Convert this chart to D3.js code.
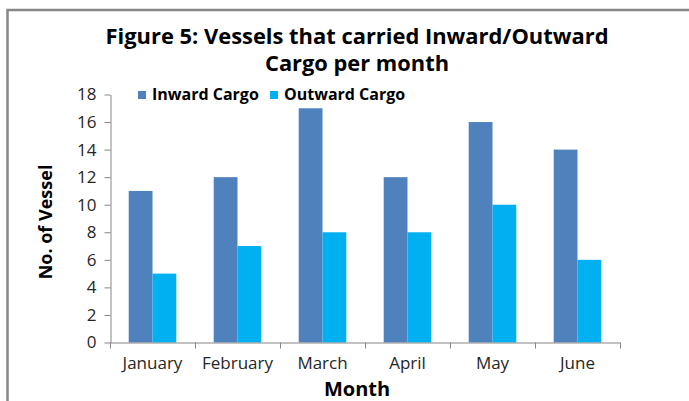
<!DOCTYPE html>
<html><head><meta charset="utf-8">
<script src="https://cdn.jsdelivr.net/npm/d3@7"></script>
<style>body{margin:0;background:#fff}svg{display:block}</style>
</head><body>
<script>
const months = ["January","February","March","April","May","June"];
const inward = [11,12,17,12,16,14];
const outward = [5,7,8,8,10,6];
const seriesNames = ["Inward Cargo","Outward Cargo"];
const seriesColors = ["#4F81BD","#00B0F0"];
const yTicks = [0,2,4,6,8,10,12,14,16,18];

const W=689,H=401;
const svg=d3.select("body").append("svg").attr("width",W).attr("height",H);
const font="Open Sans, Noto Sans, sans-serif";

svg.append("rect").attr("x",7.5).attr("y",10).attr("width",W+10).attr("height",H+10)
  .attr("fill","#fff").attr("stroke","#878787").attr("stroke-width",2.5);

const x0=d3.scaleBand().domain(months).range([110,620]);
const x1=d3.scaleBand().domain(seriesNames).range([x0.bandwidth()*0.22,x0.bandwidth()*0.78]);
const y=d3.scaleLinear().domain([0,18]).range([342.5,94.5]);

// title
const tf={"font-family":font,"font-weight":"bold","font-size":21,"fill":"#000","text-anchor":"middle"};
const t1=svg.append("text").attr("x",357).attr("y",44).text("Figure 5: Vessels that carried Inward/Outward")
  .attr("textLength",503).attr("lengthAdjust","spacingAndGlyphs");
const t2=svg.append("text").attr("x",357).attr("y",71).text("Cargo per month")
  .attr("textLength",184).attr("lengthAdjust","spacingAndGlyphs");
[t1,t2].forEach(t=>Object.entries(tf).forEach(([k,v])=>t.attr(k,v)));

// bars
const data=months.map((m,i)=>({m,vals:[inward[i],outward[i]]}));
const g=svg.append("g");
g.selectAll("g").data(data).join("g").attr("transform",d=>`translate(${x0(d.m)},0)`)
 .selectAll("rect").data(d=>d.vals.map((v,j)=>({v,s:seriesNames[j],c:seriesColors[j]})))
 .join("rect").attr("x",d=>x1(d.s)).attr("width",x1.bandwidth())
 .attr("y",d=>y(d.v)).attr("height",d=>y(0)-y(d.v)).attr("fill",d=>d.c);

// y axis
const ya=svg.append("g").attr("transform","translate(110.5,0)")
 .call(d3.axisLeft(y).tickValues(yTicks).tickSize(6).tickPadding(8).tickSizeOuter(0));
ya.select(".domain").attr("stroke","#868686");
ya.selectAll(".tick line").attr("stroke","#868686");
ya.selectAll("text").attr("font-family",font).attr("font-size",17).attr("fill","#262626");

// x axis
const xa=svg.append("g").attr("transform",`translate(0,${y(0)})`)
 .call(d3.axisBottom(x0).tickSize(0).tickPadding(14));
xa.select(".domain").attr("stroke","#868686");
xa.selectAll("text").attr("font-family",font).attr("font-size",17).attr("fill","#262626");
const bounds=months.map(m=>x0(m)).concat([x0.range()[1]]);
xa.selectAll("line.sep").data(bounds).join("line").attr("class","sep")
 .attr("x1",d=>Math.round(d)+0.5).attr("x2",d=>Math.round(d)+0.5).attr("y1",0).attr("y2",6).attr("stroke","#868686");

// axis titles
svg.append("text").attr("x",357).attr("y",396).attr("text-anchor","middle")
 .attr("font-family",font).attr("font-weight","bold").attr("font-size",20).text("Month");
svg.append("text").attr("transform","translate(52,222) rotate(-90)").attr("text-anchor","middle")
 .attr("font-family",font).attr("font-weight","bold").attr("font-size",18).text("No. of Vessel");

// legend
const lg=svg.append("g").attr("font-family",font).attr("font-weight","bold").attr("font-size",16);
const lx=[138,270];
seriesNames.forEach((s,i)=>{
  lg.append("rect").attr("x",lx[i]).attr("y",91).attr("width",8).attr("height",8).attr("fill",seriesColors[i]);
  lg.append("text").attr("x",lx[i]+14).attr("y",100).text(s);
});
</script>
</body></html>
